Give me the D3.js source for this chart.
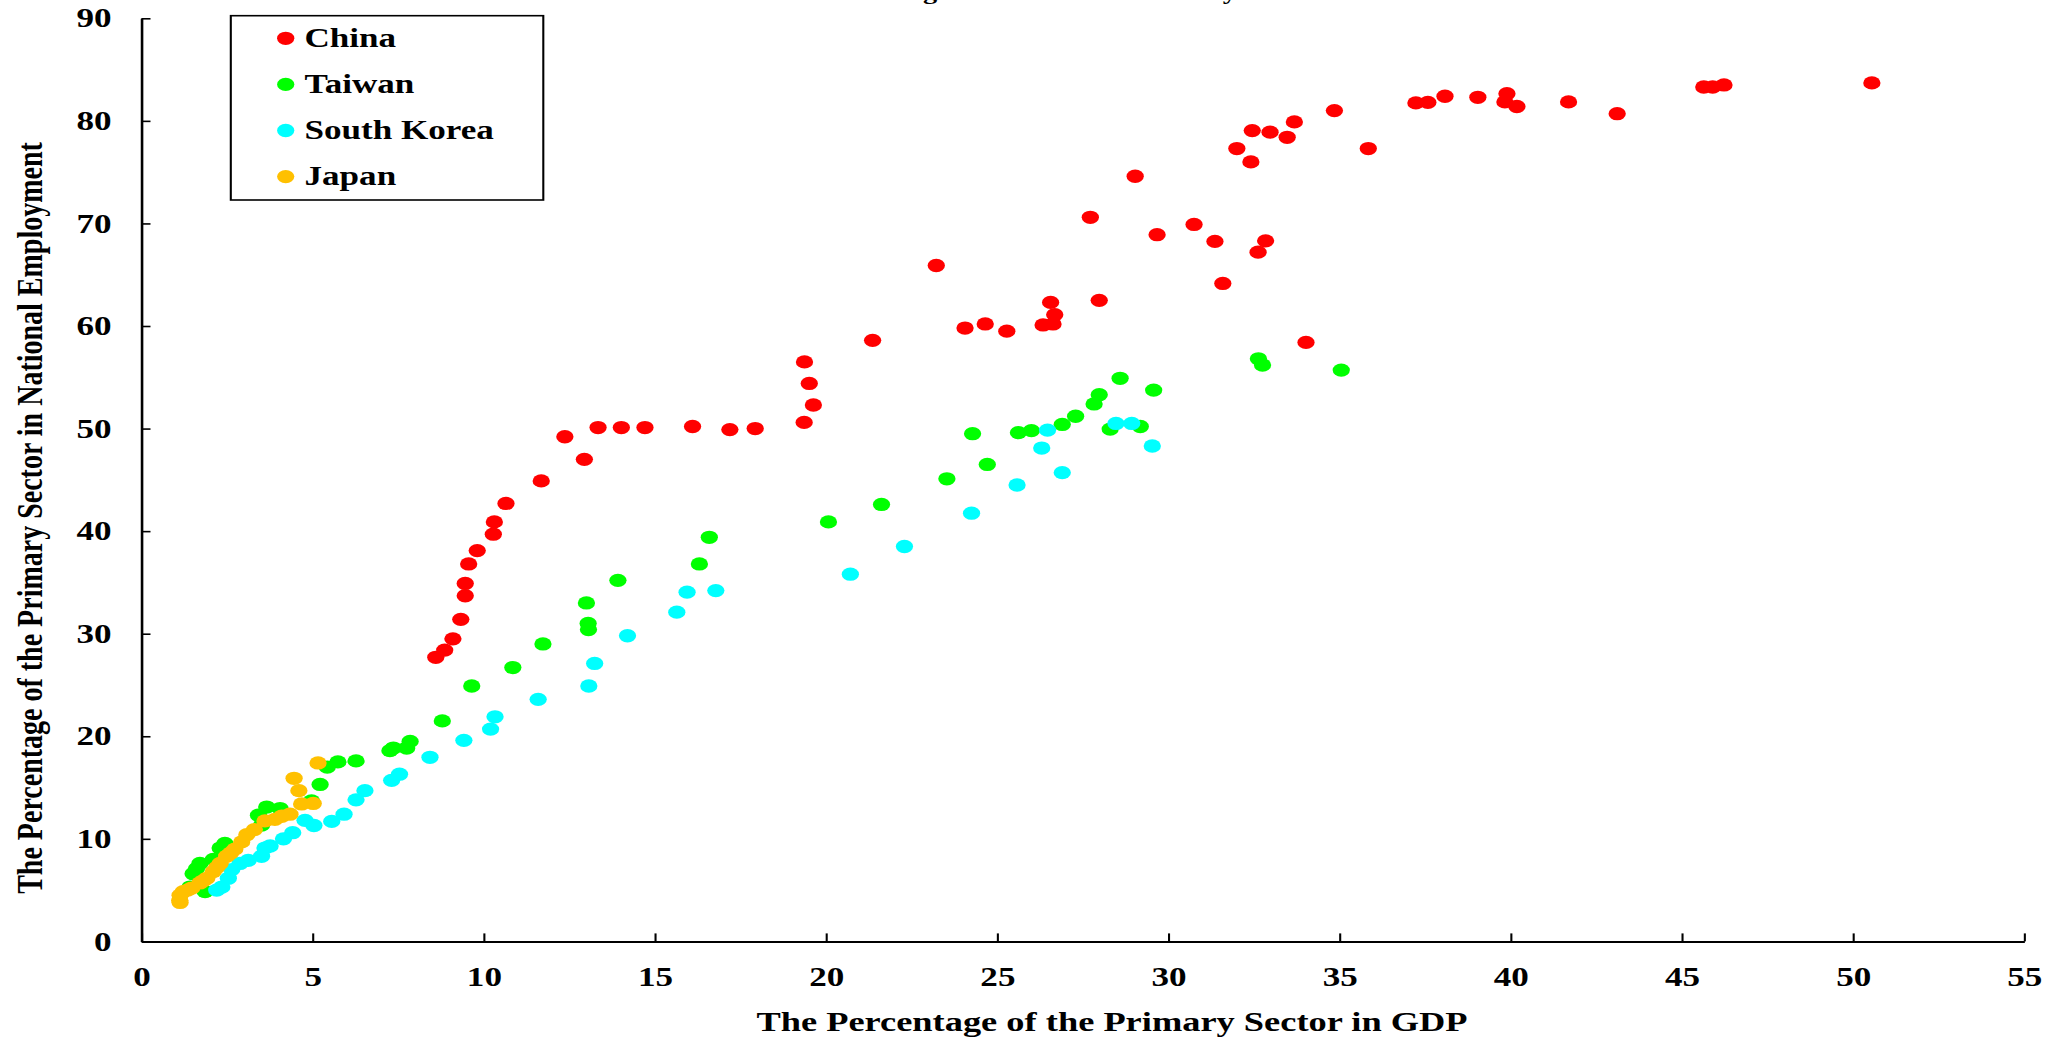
<!DOCTYPE html>
<html>
<head>
<meta charset="utf-8">
<script src="https://cdn.jsdelivr.net/npm/d3@7"></script>
<style>
  body { margin: 0; background: #fff; }
  text { font-family: "Liberation Serif", "Times New Roman", serif; font-weight: bold; fill: #000; }
</style>
</head>
<body>
<div id="chart"></div>
<script>
// data: [share of primary sector in GDP, share of primary sector in employment]
const seriesNames = ["China", "Taiwan", "South Korea", "Japan"];
const seriesColors = ["#ff0000", "#00ff00", "#00ffff", "#ffc000"];

const china = [
  [50.55,83.7],[46.23,83.5],[45.9,83.3],[45.64,83.3],[43.11,80.7],[41.69,81.85],[40.18,81.4],
  [39.89,82.65],[39.83,81.85],[39.04,82.3],[38.08,82.4],[37.58,81.8],[37.23,81.75],[35.84,77.3],
  [34.85,81.0],[33.68,79.9],[33.47,78.4],[32.97,78.9],[32.45,79.05],[32.41,76.0],[32.0,77.3],
  [29.03,74.6],[27.72,70.6],[30.75,69.9],[31.36,68.25],[29.67,68.9],[32.84,68.3],[32.62,67.2],
  [31.59,64.15],[23.22,65.9],[26.56,62.3],[27.98,62.5],[26.68,61.1],[26.63,60.2],[26.34,60.1],
  [24.65,60.2],[24.06,59.8],[25.28,59.5],[34.02,58.4],[21.36,58.6],[19.37,56.5],[19.51,54.4],
  [19.63,52.3],[19.36,50.6],[17.93,50.0],[17.19,49.9],[16.1,50.2],[14.71,50.1],[14.02,50.1],
  [13.34,50.1],[12.37,49.2],[12.94,47.0],[11.68,44.9],[10.65,42.7],[10.31,40.9],[10.28,39.7],
  [9.81,38.1],[9.56,36.8],[9.46,34.9],[9.46,33.7],[9.33,31.4],[9.1,29.5],[8.86,28.4],[8.6,27.7]
];

const taiwan = [
  [35.05,55.7],[32.75,56.2],[32.63,56.8],[29.57,53.75],[28.59,54.9],[27.98,53.3],[27.83,52.4],
  [27.29,51.2],[26.9,50.4],[26.0,49.8],[25.62,49.6],[24.28,49.5],[28.3,49.95],[29.18,50.2],
  [24.71,46.5],[23.53,45.1],[21.62,42.6],[20.07,40.9],[16.59,39.4],[16.3,36.8],[13.92,35.2],
  [13.0,33.0],[13.05,31.0],[13.06,30.4],[11.73,29.0],[10.85,26.7],[9.65,24.9],[8.79,21.5],
  [7.85,19.5],[7.75,18.85],[7.36,18.85],[7.26,18.6],[6.27,17.6],[5.74,17.5],[5.43,17.0],
  [5.22,15.3],[4.97,13.7],[4.05,12.95],[3.66,13.1],[3.42,12.3],[3.51,11.35],[2.44,9.55],
  [2.3,9.1],[2.1,8.0],[1.71,7.6],[1.61,7.1],[1.51,6.6],[1.42,5.3],[1.86,4.85]
];

const southKorea = [
  [29.53,48.3],[28.93,50.5],[28.47,50.5],[26.47,49.85],[26.3,48.1],[26.9,45.7],[25.58,44.5],
  [24.25,41.75],[22.29,38.5],[20.71,35.8],[16.78,34.2],[15.94,34.05],[15.64,32.1],[14.2,29.8],
  [13.24,27.1],[13.07,24.9],[11.59,23.6],[10.33,21.9],[10.2,20.7],[9.42,19.6],[8.43,17.95],
  [7.54,16.3],[7.31,15.7],[6.53,14.7],[6.27,13.8],[5.92,12.4],[5.56,11.7],[5.04,11.3],
  [4.78,11.8],[4.42,10.6],[4.15,10.0],[3.76,9.3],[3.61,9.1],[3.51,8.3],[3.12,7.9],[2.88,7.6],
  [2.64,7.0],[2.54,6.15],[2.35,5.3],[2.2,5.0]
];

const japan = [
  [5.16,17.4],[4.46,15.9],[4.6,14.7],[5.02,13.45],[4.68,13.4],[4.34,12.4],[4.1,12.2],[3.9,11.9],
  [3.61,11.75],[3.3,10.9],[3.08,10.4],[2.93,9.7],[2.73,9.0],[2.6,8.6],[2.49,8.3],[2.3,7.6],
  [2.2,7.2],[2.1,6.8],[1.91,6.15],[1.8,5.9],[1.71,5.7],[1.47,5.2],[1.35,5.0],[1.22,4.85],
  [1.13,4.5],[1.12,4.0],[1.13,3.8]
];

const xTicks = [0, 5, 10, 15, 20, 25, 30, 35, 40, 45, 50, 55];
const yTicks = [0, 10, 20, 30, 40, 50, 60, 70, 80, 90];

const chartTitle = "Structural Change of East Asian Economy";
const xTitle = "The Percentage of the Primary Sector in GDP";
const yTitle = "The Percentage of the Primary Sector in National Employment";

function main() {
    const canvasWidth = 2053;
    const canvasHeight = 1042;
    const stretch = 1.3;  // the original figure is stretched sideways
    const vbWidth = canvasWidth / stretch;

    const svg = d3.select("#chart").append("svg")
        .attr("width", canvasWidth)
        .attr("height", canvasHeight)
        .attr("viewBox", `0 0 ${vbWidth} ${canvasHeight}`)
        .attr("preserveAspectRatio", "none")
        .style("display", "block");

    const x = d3.scaleLinear().domain([0, 55]).range([141.4 / stretch, 2024.2 / stretch]);
    const y = d3.scaleLinear().domain([0, 90]).range([941.4, 18.3]);

    // title, only the bottom edge shows in the original
    const title = svg.append("text")
        .attr("font-size", 24)
        .attr("y", -2)
        .text(chartTitle);
    const tn = title.node();
    const gi = chartTitle.indexOf("g"), yi = chartTitle.lastIndexOf("y");
    const mid = i => { const e = tn.getExtentOfChar(i); return e.x + e.width / 2; };
    const fs = 24 * (1230 - 930) / stretch / (mid(yi) - mid(gi));
    title.attr("font-size", fs).attr("y", 3.5 - 0.22 * fs);
    title.attr("x", 930 / stretch - mid(gi));

    // axes
    const xAxis = svg.append("g")
        .attr("transform", `translate(0,${y(0)})`)
        .call(d3.axisBottom(x).tickValues(xTicks).tickSizeInner(-8).tickSizeOuter(0).tickPadding(25));
    const yAxis = svg.append("g")
        .attr("transform", `translate(${x(0)},0)`)
        .call(d3.axisLeft(y).tickValues(yTicks).tickSizeInner(-7).tickSizeOuter(0).tickPadding(23));

    [xAxis, yAxis].forEach(g => {
        g.select(".domain").attr("stroke", "#000").attr("stroke-width", 2);
        g.selectAll(".tick line").attr("stroke", "#000").attr("stroke-width", 1.6);
        g.selectAll(".tick text")
            .attr("font-family", "Liberation Serif, Times New Roman, serif")
            .attr("font-weight", "bold")
            .attr("font-size", 27)
            .attr("fill", "#000");
    });

    // axis titles
    svg.append("text")
        .attr("x", 1112 / stretch)
        .attr("y", 1031)
        .attr("text-anchor", "middle")
        .attr("font-size", 28)
        .text(xTitle);

    svg.append("text")
        .attr("transform", `translate(${42 / stretch},518) rotate(-90)`)
        .attr("text-anchor", "middle")
        .attr("font-size", 28)
        .text(yTitle);

    // points
    const allSeries = [china, taiwan, southKorea, japan];
    allSeries.forEach((pts, i) => {
        svg.append("g")
            .attr("class", "series")
            .selectAll("circle")
            .data(pts)
            .enter().append("circle")
            .attr("cx", d => x(d[0]))
            .attr("cy", d => y(d[1]))
            .attr("r", 6.65)
            .attr("fill", seriesColors[i]);
    });

    // legend
    const legend = svg.append("g").attr("class", "legend");
    legend.append("rect")
        .attr("x", 230.8 / stretch)
        .attr("y", 15.7)
        .attr("width", (543.3 - 230.8) / stretch)
        .attr("height", 200 - 15.7)
        .attr("fill", "#fff")
        .attr("stroke", "#000")
        .attr("stroke-width", 1.6);

    const rows = legend.selectAll("g.row")
        .data(seriesNames)
        .enter().append("g")
        .attr("class", "row")
        .attr("transform", (d, i) => `translate(0,${38.3 + i * 46.1})`);
    rows.append("circle")
        .attr("cx", 285.7 / stretch)
        .attr("cy", 0)
        .attr("r", 6.65)
        .attr("fill", (d, i) => seriesColors[i]);
    rows.append("text")
        .attr("x", 304.5 / stretch)
        .attr("y", 8.4)
        .attr("font-size", 27)
        .text(d => d);
}
main();
</script>
</body>
</html>
